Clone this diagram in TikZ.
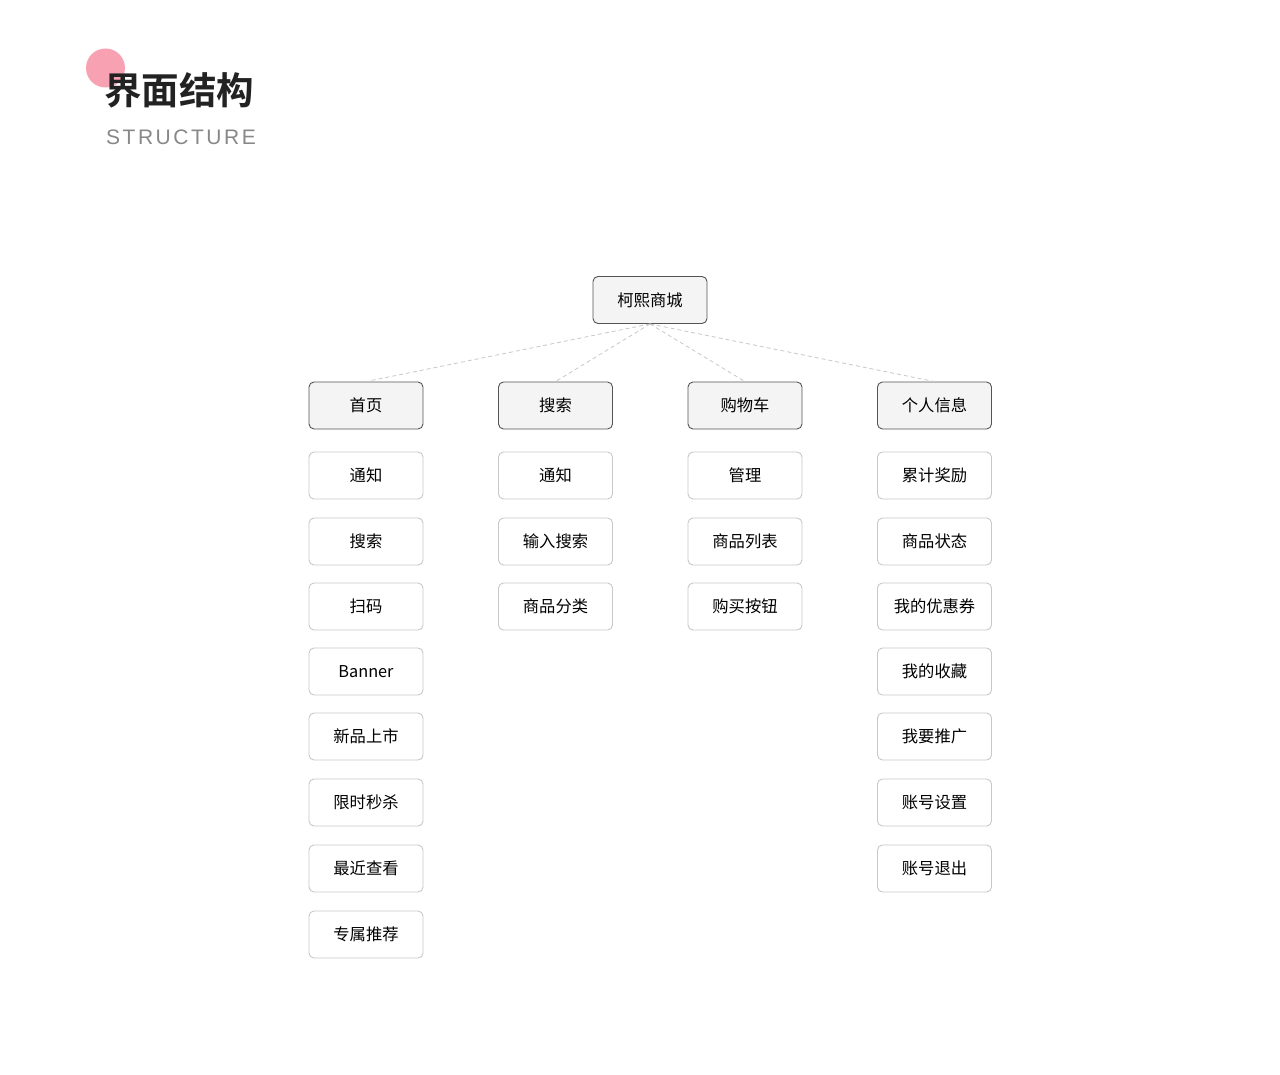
\documentclass[tikz,border=0pt]{standalone}
\usepackage{fontspec}
\setmainfont{Noto Sans CJK SC}
\newfontfamily\cjkbold{Noto Sans CJK SC}[BoldFont={* Bold}]
\newfontfamily\latinsans{Liberation Sans}[LetterSpace=12]
\definecolor{pinkdot}{HTML}{F8A1B3}
\definecolor{titlegray}{HTML}{222222}
\definecolor{subgray}{HTML}{888888}
\definecolor{lvlfill}{HTML}{F4F4F4}
\definecolor{lvlborder}{HTML}{555555}
\definecolor{leafborder}{HTML}{C8C8C8}
\definecolor{linkgray}{HTML}{C8C8C8}
\begin{document}
\begin{tikzpicture}[x=1pt,y=-1pt,
  basebox/.style={rounded corners=5pt, minimum width=114pt, minimum height=47pt, inner sep=0pt, font=\fontsize{16.3}{19}\selectfont, text=black},
  topbox/.style={basebox, draw=lvlborder, fill=lvlfill, line width=0.9pt},
  leafbox/.style={basebox, draw=leafborder, fill=white, line width=0.9pt},
  link/.style={draw=linkgray, line width=0.8pt, dash pattern=on 4pt off 3pt}]
\useasboundingbox (0,0) rectangle (1280,1075);
\fill[white] (0,0) rectangle (1280,1075);
% title
\fill[pinkdot] (105.5,68) circle (19.5);
\node[anchor=west, inner sep=0pt, text=titlegray, font={\cjkbold\bfseries\fontsize{37.5}{41}\selectfont}] (title) at (104,90) {界面结构};
\node[anchor=west, inner sep=0pt, text=subgray, font={\latinsans\fontsize{21}{24}\selectfont}] (subtitle) at (106,137) {STRUCTURE};
% root
\node[topbox] (root) at (650,300) {柯熙商城};
% level 1
\node[topbox] (home) at (366,405.5) {首页};
\node[topbox] (search) at (555.5,405.5) {搜索};
\node[topbox] (cart) at (745,405.5) {购物车};
\node[topbox] (me) at (934.5,405.5) {个人信息};
\foreach \c in {home,search,cart,me}{\draw[link] (root.south) -- (\c.north);}
% column 1
\node[leafbox] (h1) at (366,475.5) {通知};
\node[leafbox] (h2) at (366,541.5) {搜索};
\node[leafbox] (h3) at (366,606.5) {扫码};
\node[leafbox] (h4) at (366,671.5) {Banner};
\node[leafbox] (h5) at (366,736.5) {新品上市};
\node[leafbox] (h6) at (366,802.5) {限时秒杀};
\node[leafbox] (h7) at (366,868.5) {最近查看};
\node[leafbox] (h8) at (366,934.5) {专属推荐};
% column 2
\node[leafbox] (s1) at (555.5,475.5) {通知};
\node[leafbox] (s2) at (555.5,541.5) {输入搜索};
\node[leafbox] (s3) at (555.5,606.5) {商品分类};
% column 3
\node[leafbox] (c1) at (745,475.5) {管理};
\node[leafbox] (c2) at (745,541.5) {商品列表};
\node[leafbox] (c3) at (745,606.5) {购买按钮};
% column 4
\node[leafbox] (m1) at (934.5,475.5) {累计奖励};
\node[leafbox] (m2) at (934.5,541.5) {商品状态};
\node[leafbox] (m3) at (934.5,606.5) {我的优惠券};
\node[leafbox] (m4) at (934.5,671.5) {我的收藏};
\node[leafbox] (m5) at (934.5,736.5) {我要推广};
\node[leafbox] (m6) at (934.5,802.5) {账号设置};
\node[leafbox] (m7) at (934.5,868.5) {账号退出};
\end{tikzpicture}
\end{document}
